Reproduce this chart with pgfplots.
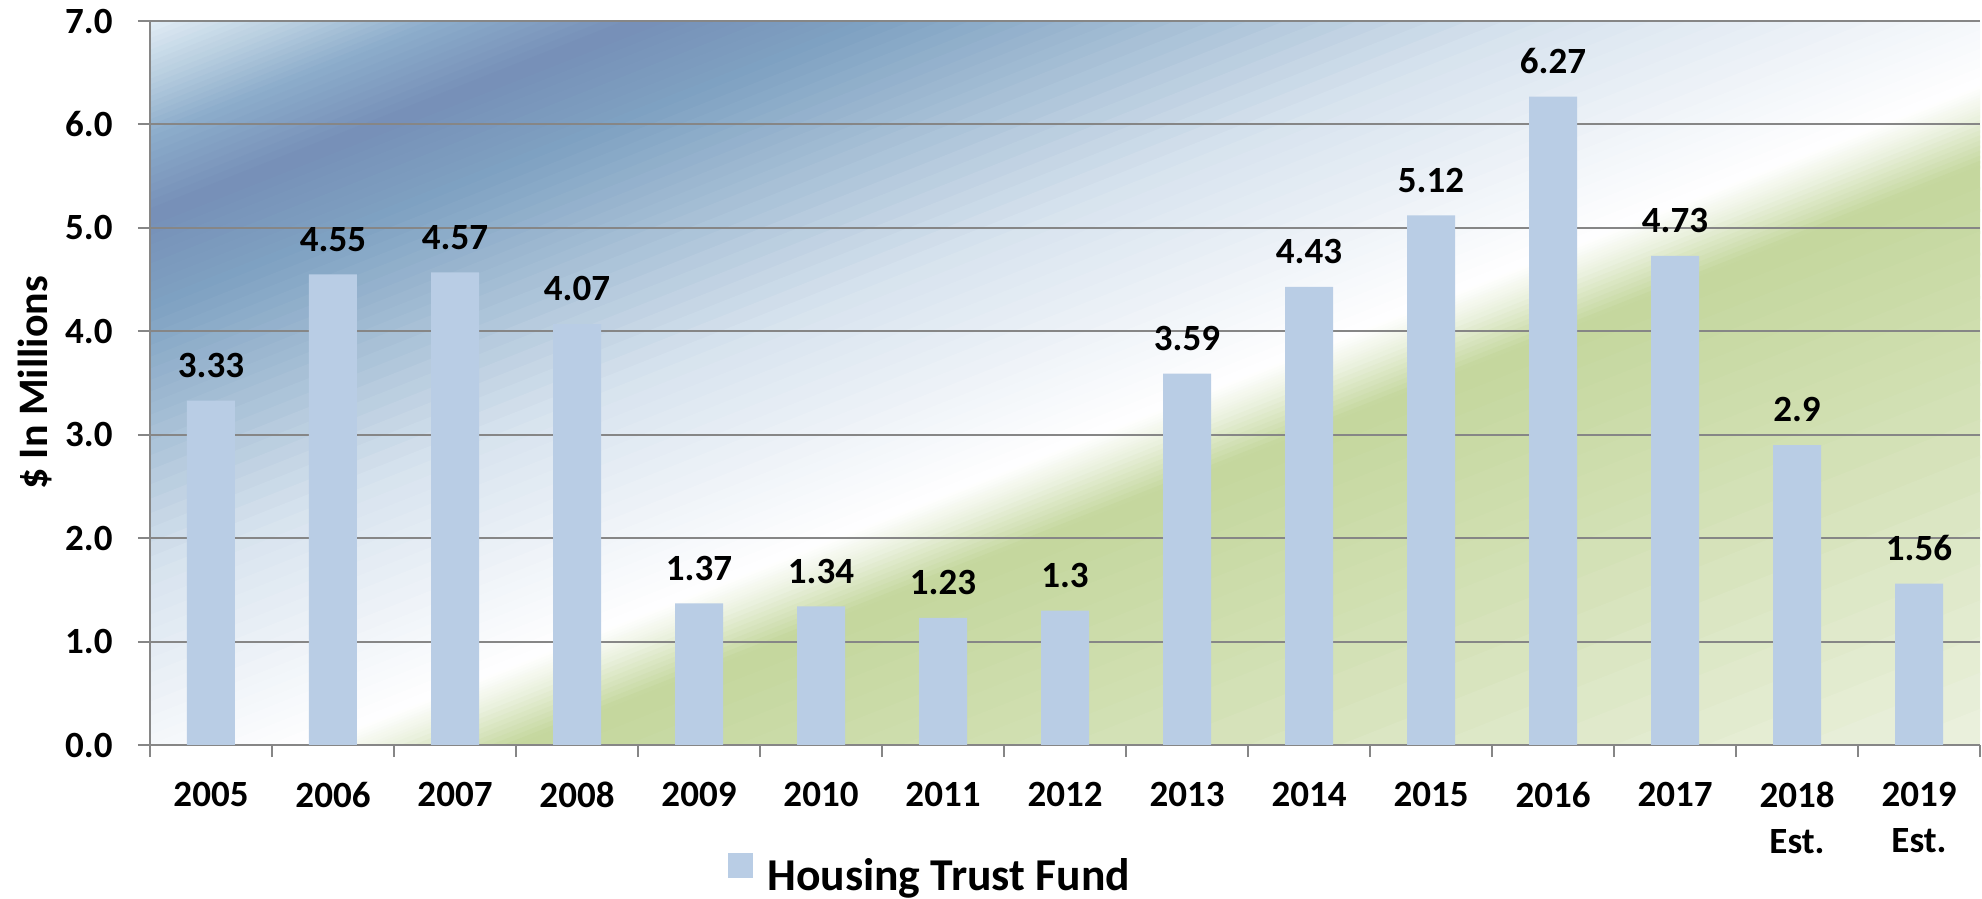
\documentclass[border=0pt]{standalone}
\usepackage{pgfplots}
\pgfplotsset{compat=1.18}
\usepackage{fontspec}
\setmainfont{Carlito}

\definecolor{barblue}{RGB}{185,205,229}
\definecolor{gridgray}{RGB}{134,134,134}
% background gradient stops, top-left corner (t=0) to bottom-right corner (t=1)
\definecolor{bgA}{RGB}{226,237,246}
\definecolor{bgB}{RGB}{185,207,224}
\definecolor{bgC}{RGB}{140,172,203}
\definecolor{bgD}{RGB}{118,143,183}
\definecolor{bgE}{RGB}{127,162,194}
\definecolor{bgF}{RGB}{165,190,213}
\definecolor{bgG}{RGB}{215,227,238}
\definecolor{bgH}{RGB}{240,244,249}
\definecolor{bgI}{RGB}{255,255,255}
\definecolor{bgJ}{RGB}{236,242,225}
\definecolor{bgK}{RGB}{196,215,157}
\definecolor{bgL}{RGB}{210,224,180}
\definecolor{bgM}{RGB}{235,241,222}

\newcommand{\lbl}{\fontsize{18.5}{23}\selectfont\bfseries}

\begin{document}
\begin{tikzpicture}
\useasboundingbox (-75pt,-77pt) rectangle (916pt,372.5pt);
% diagonal gradient behind the plot area (915pt x 362pt), bands along fx+fy=2t
\begin{scope}
\clip (0,0) rectangle (915pt,362pt);
\foreach \ta/\tb/\ca/\cb in {0/0.04/bgA/bgB, 0.04/0.08/bgB/bgC, 0.08/0.135/bgC/bgD,
    0.135/0.2/bgD/bgE, 0.2/0.28/bgE/bgF, 0.28/0.38/bgF/bgG, 0.38/0.48/bgG/bgH,
    0.48/0.545/bgH/bgI, 0.545/0.565/bgI/bgJ, 0.565/0.6/bgJ/bgK, 0.6/0.75/bgK/bgL,
    0.75/1.0/bgL/bgM}{
  \foreach \k in {0,...,9}{
    \pgfmathsetmacro\sa{\ta+(\tb-\ta)*\k/10}
    \pgfmathsetmacro\sb{\ta+(\tb-\ta)*(\k+1)/10+0.002}
    \pgfmathsetmacro\pct{100-(\k+0.5)*10}
    \pgfmathsetmacro\yA{362*(0.9-2*\sa)}
    \pgfmathsetmacro\yB{362*(2.1-2*\sa)}
    \pgfmathsetmacro\yC{362*(2.1-2*\sb)}
    \pgfmathsetmacro\yD{362*(0.9-2*\sb)}
    \fill[\ca!\pct!\cb] (-91.5pt,\yA pt) -- (1006.5pt,\yB pt) -- (1006.5pt,\yC pt) -- (-91.5pt,\yD pt) -- cycle;
  }
}
\end{scope}
\begin{axis}[
    at={(0,0)}, anchor=south west,
    scale only axis,
    width=915pt, height=362pt,
    ybar, bar width=24pt,
    xmin=-0.5, xmax=14.5,
    ymin=0, ymax=7,
    axis x line*=bottom, axis y line*=left,
    axis line style={draw=gridgray, line width=1pt, -},
    xtick={0,...,14},
    xticklabels={2005,2006,2007,2008,2009,2010,2011,2012,2013,2014,2015,2016,2017,{2018\\Est.},{2019\\Est.}},
    minor xtick={-0.5,0.5,...,14.5},
    ytick={0,1,...,7},
    xtick pos=lower, ytick pos=lower,
    tick align=outside,
    major tick length=6pt, minor tick length=6pt,
    tick style={draw=gridgray, line width=1pt},
    major x tick style={draw=none},
    ymajorgrids,
    grid style={draw=gridgray, line width=1pt},
    /pgf/number format/assume math mode=true,
    yticklabel style={font=\lbl, inner sep=0pt, xshift=-12.5pt,
        /pgf/number format/.cd, fixed, fixed zerofill, precision=1},
    xticklabel style={font=\lbl, inner sep=0pt, align=center, yshift=-12.5pt},
    ylabel={\$ In Millions},
    ylabel style={font=\fontsize{21}{25}\selectfont\bfseries,
        at={(axis description cs:-0.0628,0.5)}, anchor=center},
    nodes near coords,
    every node near coord/.append style={font=\lbl, inner sep=0pt, yshift=11.3pt, black},
    legend style={at={(axis description cs:0.3158,-0.1795)}, anchor=west,
        draw=none, fill=none, inner sep=0pt,
        font=\fontsize{22.8}{26}\selectfont\bfseries},
]
\addplot[fill=barblue, draw=none,
    legend image code/.code={\fill[barblue] (0pt,-1pt) rectangle (12.5pt,11.5pt); \path (17.5pt,0pt);}]
    coordinates {(0,3.33) (1,4.55) (2,4.57) (3,4.07) (4,1.37) (5,1.34) (6,1.23) (7,1.3)
                 (8,3.59) (9,4.43) (10,5.12) (11,6.27) (12,4.73) (13,2.9) (14,1.56)};
\addlegendentry{Housing Trust Fund}
\end{axis}
\end{tikzpicture}
\end{document}
